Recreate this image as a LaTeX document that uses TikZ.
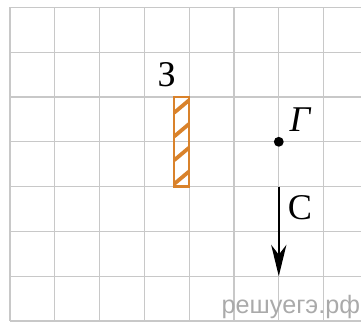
\documentclass[tikz,border=0pt]{standalone}
\usepackage{fontspec}
\setmainfont{Liberation Serif}
\newfontfamily\wmfont{Liberation Sans}
\usetikzlibrary{arrows.meta}
\definecolor{gridgray}{RGB}{200,200,200}
\definecolor{mirrorbrown}{RGB}{217,130,43}
\definecolor{wmgray}{RGB}{170,170,170}
\tikzset{F09grid/.style={draw=gridgray,line width=0.8pt},
         F09hatch/.style={mirrorbrown,line width=2.4pt},
         F09mir/.style={draw=mirrorbrown,line width=1.4pt,inner sep=0pt,
            minimum width=0.333cm,minimum height=2cm,
            path picture={\foreach \c in {0.2,0.73,1.26,1.79}
               \draw[F09hatch] ([yshift=\c cm-0.14cm]path picture bounding box.south west)
                             --([yshift=\c cm+0.14cm]path picture bounding box.south east);}},
         F09pt/.style={circle,fill=black,inner sep=0pt,minimum size=0.22cm},
         F09lab/.style={font=\fontsize{23}{26}\selectfont,inner sep=0pt},
         F09arr/.style={line width=1pt,-{Stealth[length=0.7cm,width=0.34cm,inset=0.22cm]}},
         F09wm/.style={font=\wmfont\fontsize{16}{19}\selectfont,text=wmgray,inner sep=0pt,anchor=base}}

\begin{document}
\begin{tikzpicture}
  \useasboundingbox (-0.223,-0.045) rectangle (7.835,7.165);
  % grid
  \foreach \i in {0,...,7}
     {\draw[F09grid] (\i,0)--(\i,7); \draw[F09grid] (0,\i)--(7.835,\i);}
  % mirror and point
  \node[F09mir] (Z) at (3.833,4) {};
  \node[F09lab] (Zlab) at (3.5,5.49) {З};
  \node[F09pt] (G) at (6,4) {};
  \node[F09lab,font=\fontsize{23}{26}\selectfont\itshape] (Glab) at (6.47,4.49) {Г};
  % ray
  \coordinate (Ctail) at (6,3); \coordinate (Chead) at (6,1);
  \draw[F09arr] (Ctail)--(Chead);
  \node[F09lab] (Clab) at (6.47,2.52) {С};
  \node[F09wm] (wm) at (6.27,0.16) {решуегэ.рф};
\end{tikzpicture}
\end{document}
